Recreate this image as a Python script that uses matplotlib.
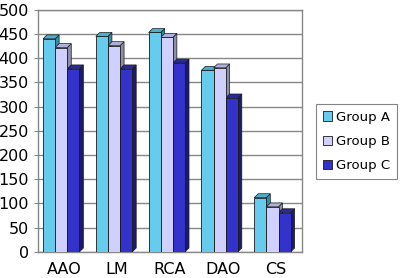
import numpy as np
import matplotlib.pyplot as plt
from matplotlib.patches import Polygon

# data
categories = ['AAO', 'LM', 'RCA', 'DAO', 'CS']
group_a = [440, 445, 453, 375, 112]
group_b = [422, 426, 443, 380, 93]
group_c = [378, 378, 390, 318, 81]
series_names = ['Group A', 'Group B', 'Group C']

face_colors = ['#66CCEE', '#D0D0FF', '#3333CC']
side_colors = ['#2E8FA8', '#8E8EA8', '#1C1C66']
top_colors = ['#4AB0CC', '#B0B0DD', '#2A2AA0']

fig = plt.figure(figsize=(4, 2.78), dpi=100)
ax = fig.add_axes([0.095, 0.094, 0.66, 0.871])

x = np.arange(len(categories))
width = 0.23
offsets = [-0.29, -0.06, 0.17]
dx, dy = 0.075, 8  # depth of the fake 3d

for k, vals in enumerate([group_a, group_b, group_c]):
    xs = x + offsets[k]
    bars = ax.bar(xs, vals, width, color=face_colors[k], edgecolor='#1a1a1a',
                  linewidth=0.6, label=series_names[k], zorder=3)
    for b in bars:
        x0 = b.get_x()
        x1 = x0 + b.get_width()
        h = b.get_height()
        side = Polygon([(x1, 0), (x1 + dx, dy), (x1 + dx, h + dy), (x1, h)],
                       closed=True, facecolor=side_colors[k], edgecolor='#1a1a1a',
                       linewidth=0.5, zorder=2.9 + 0.01 * k)
        top = Polygon([(x0, h), (x0 + dx, h + dy), (x1 + dx, h + dy), (x1, h)],
                      closed=True, facecolor=top_colors[k], edgecolor='#1a1a1a',
                      linewidth=0.5, zorder=2.9 + 0.01 * k)
        ax.add_patch(side)
        ax.add_patch(top)

ax.set_xlim(-0.5, 4.5)
ax.set_ylim(0, 500)
ax.set_yticks(range(0, 501, 50))
ax.set_xticks(x)
ax.set_xticklabels(categories)
ax.tick_params(axis='both', labelsize=11.5, length=3, color='#888888')
ax.tick_params(axis='x', length=0, pad=7)
ax.yaxis.grid(True, color='#888888', linewidth=1.0, zorder=0)
for s in ax.spines.values():
    s.set_color('#888888')
    s.set_linewidth(1.0)

leg = fig.legend(loc='upper left', bbox_to_anchor=(0.79, 0.626), fontsize=9.5,
                 frameon=True, fancybox=False, edgecolor='#666666',
                 handlelength=0.7, handleheight=0.7, handletextpad=0.3,
                 labelspacing=0.85, borderpad=0.5, borderaxespad=0)
leg.get_frame().set_linewidth(0.8)

fig.savefig('out.png', dpi=100)
